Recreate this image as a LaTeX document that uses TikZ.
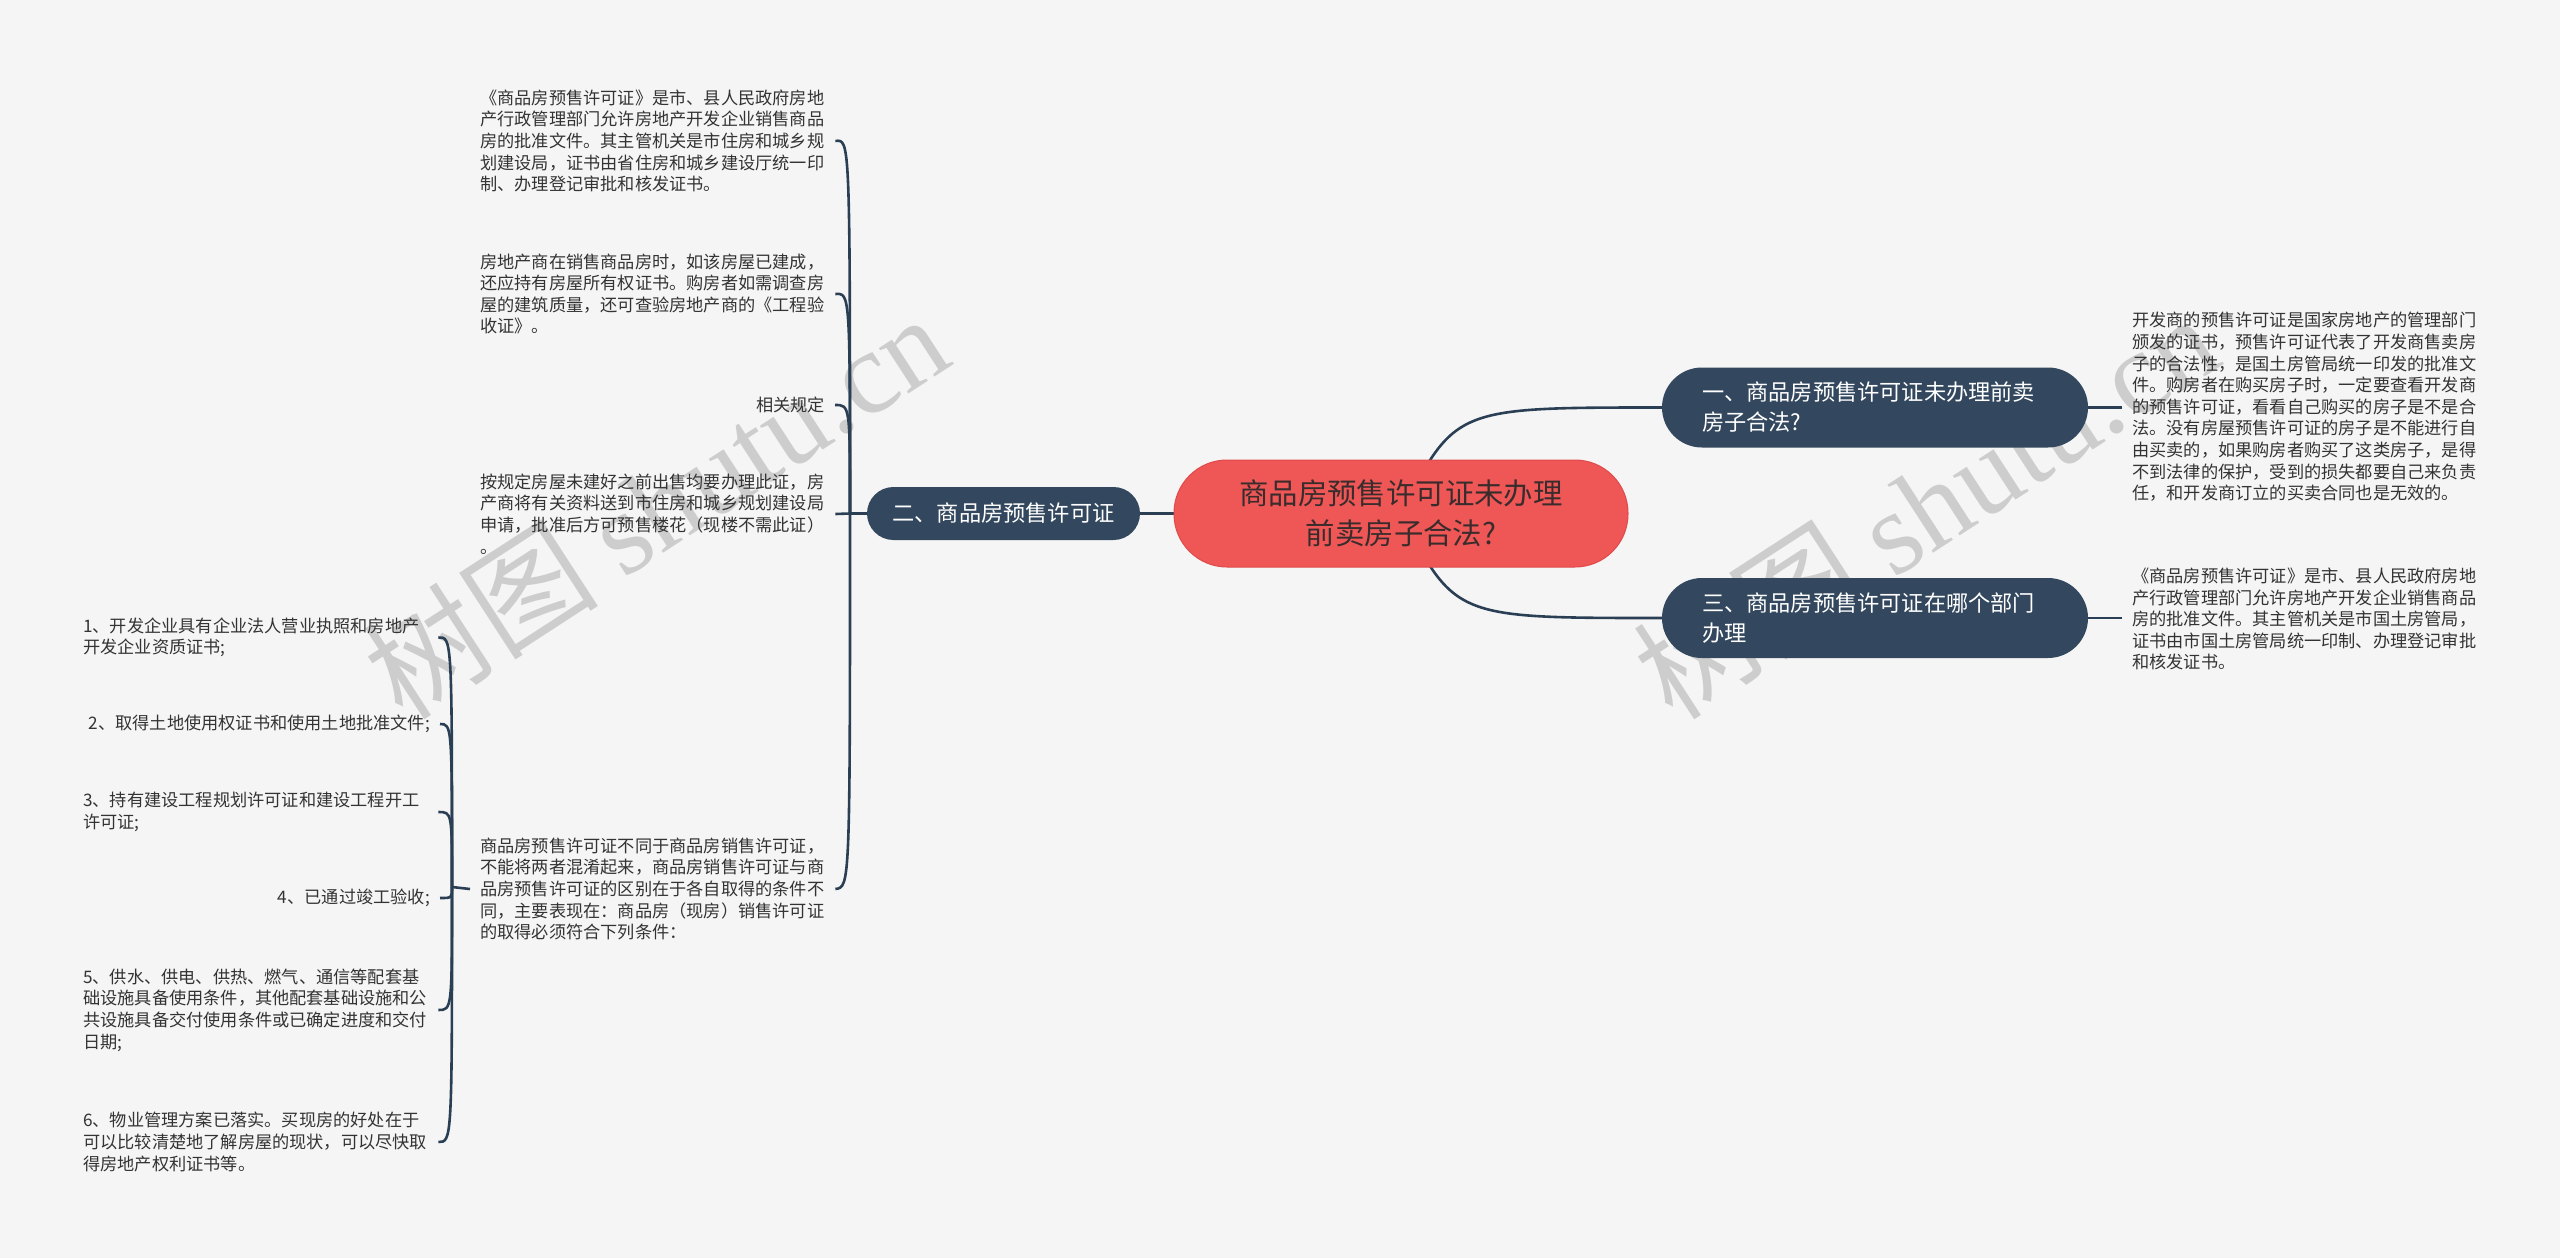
\documentclass[tikz,border=0pt]{standalone}
\usepackage{fontspec}
\setmainfont{Noto Sans CJK SC}
\newfontfamily\wmlatin{Liberation Serif}
\newfontfamily\wmcjk{Noto Sans CJK SC}
\usetikzlibrary{backgrounds}
\definecolor{bgc}{HTML}{F5F5F5}
\definecolor{navy}{HTML}{33485E}
\definecolor{linec}{HTML}{2B3F54}
\definecolor{rootc}{HTML}{EF5757}
\definecolor{rootb}{HTML}{E04A4A}
\definecolor{roottxt}{HTML}{3A2C2C}
\definecolor{txtc}{HTML}{333333}
\definecolor{wmc}{HTML}{CDCDCD}
\begin{document}
\begin{tikzpicture}[x=1pt,y=-1pt,
  leaf/.style={font=\fontsize{17.2}{21.6}\selectfont, text=txtc, inner xsep=10pt, inner ysep=3pt},
  leafw/.style={leaf, text width=345pt, align=left, anchor=west},
  leafe/.style={leaf, anchor=east},
  dnode/.style={fill=navy, text=white, font=\fontsize{22.2}{30}\selectfont},
  conn/.style={draw=linec, line width=2.6pt},
  wmark/.style={text=wmc, rotate=33, inner sep=0pt}]
\useasboundingbox (0,0) rectangle (2560,1258);

% central topic
\node[fill=rootc, draw=rootb, line width=1pt, rounded corners=53pt,
      minimum width=454pt, minimum height=107pt,
      font=\fontsize{29.4}{40}\selectfont, text=roottxt, align=center]
  (c) at (1401,513.5) {商品房预售许可证未办理\\前卖房子合法?};

% main branches
\node[dnode, minimum width=426pt, minimum height=80pt, rounded corners=40pt,
      text width=346pt, align=left, inner xsep=0pt]
  (n1) at (1875,407.5) {一、商品房预售许可证未办理前卖\\房子合法?};
\node[dnode, minimum width=426pt, minimum height=80pt, rounded corners=40pt,
      text width=346pt, align=left, inner xsep=0pt]
  (n3) at (1875,618) {三、商品房预售许可证在哪个部门\\办理};
\node[dnode, minimum width=273pt, minimum height=53pt, rounded corners=26.5pt, inner xsep=0pt]
  (n2) at (1003.5,513.5) {二、商品房预售许可证};

% right leaves
\node[leafw] (r1) at (2122,407) {开发商的预售许可证是国家房地产的管理部门\\颁发的证书，预售许可证代表了开发商售卖房\\子的合法性，是国土房管局统一印发的批准文\\件。购房者在购买房子时，一定要查看开发商\\的预售许可证，看看自己购买的房子是不是合\\法。没有房屋预售许可证的房子是不能进行自\\由买卖的，如果购房者购买了这类房子，是得\\不到法律的保护，受到的损失都要自己来负责\\任，和开发商订立的买卖合同也是无效的。};
\node[leafw] (r3) at (2122,619) {《商品房预售许可证》是市、县人民政府房地\\产行政管理部门允许房地产开发企业销售商品\\房的批准文件。其主管机关是市国土房管局，\\证书由市国土房管局统一印制、办理登记审批\\和核发证书。};

% middle leaves
\node[leafw] (l1) at (470,141) {《商品房预售许可证》是市、县人民政府房地\\产行政管理部门允许房地产开发企业销售商品\\房的批准文件。其主管机关是市住房和城乡规\\划建设局，证书由省住房和城乡建设厅统一印\\制、办理登记审批和核发证书。};
\node[leafw] (l2) at (470,294) {房地产商在销售商品房时，如该房屋已建成，\\还应持有房屋所有权证书。购房者如需调查房\\屋的建筑质量，还可查验房地产商的《工程验\\收证》。};
\node[leafe] (l3) at (835,405) {相关规定};
\node[leafw] (l4) at (470,514) {按规定房屋未建好之前出售均要办理此证，房\\产商将有关资料送到市住房和城乡规划建设局\\申请，批准后方可预售楼花（现楼不需此证）\\。};
\node[leafw] (l5) at (470,889) {商品房预售许可证不同于商品房销售许可证，\\不能将两者混淆起来，商品房销售许可证与商\\品房预售许可证的区别在于各自取得的条件不\\同，主要表现在：商品房（现房）销售许可证\\的取得必须符合下列条件：};

% left items
\node[leafw] (i1) at (73,637.5) {1、开发企业具有企业法人营业执照和房地产\\开发企业资质证书;};
\node[leafe] (i2) at (440,724) {2、取得土地使用权证书和使用土地批准文件;};
\node[leafw] (i3) at (73,812) {3、持有建设工程规划许可证和建设工程开工\\许可证;};
\node[leafe] (i4) at (440,898) {4、已通过竣工验收;};
\node[leafw] (i5) at (73,1010) {5、供水、供电、供热、燃气、通信等配套基\\础设施具备使用条件，其他配套基础设施和公\\共设施具备交付使用条件或已确定进度和交付\\日期;};
\node[leafw] (i6) at (73,1142) {6、物业管理方案已落实。买现房的好处在于\\可以比较清楚地了解房屋的现状，可以尽快取\\得房地产权利证书等。};

\coordinate (sp) at (850,513.5);
\coordinate (sq) at (452,887);

\begin{pgfonlayer}{background}
  \fill[bgc] (0,0) rectangle (2560,1258);
  \node[wmark] (wm1) at (655,505) {\fontsize{118}{118}\selectfont\wmcjk 树图 \wmlatin shutu.cn};
  \node[wmark] (wm2) at (1925,505) {\fontsize{118}{118}\selectfont\wmcjk 树图 \wmlatin shutu.cn};
  % central connections
  \draw[conn] (c.west) -- (n2.east);
  \draw[conn] (c.center) .. controls (1455,407.5) .. (n1.west);
  \draw[conn] (c.center) .. controls (1455,618) .. (n3.west);
  % right leaves
  \draw[conn] (n1.east) -- (n1.east -| r1.west);
  \draw[conn] (n3.east) -- (n3.east -| r3.west);
  % left spine
  \draw[conn] (n2.west) -- (sp);
  \draw[conn] (sp) .. controls (850,139) .. (l1.east);
  \draw[conn] (sp) .. controls (850,293) .. (l2.east);
  \draw[conn] (sp) .. controls (850,405) .. (l3.east);
  \draw[conn] (sp) -- (l4.east);
  \draw[conn] (sp) .. controls (850,887) .. (l5.east);
  % items
  \draw[conn] (l5.west) -- (sq);
  \draw[conn] (sq) .. controls (452,637) .. (i1.east);
  \draw[conn] (sq) .. controls (452,724) .. (i2.east);
  \draw[conn] (sq) .. controls (452,812) .. (i3.east);
  \draw[conn] (sq) .. controls (452,898) .. (i4.east);
  \draw[conn] (sq) .. controls (452,1010) .. (i5.east);
  \draw[conn] (sq) .. controls (452,1142) .. (i6.east);
\end{pgfonlayer}
\end{tikzpicture}
\end{document}
